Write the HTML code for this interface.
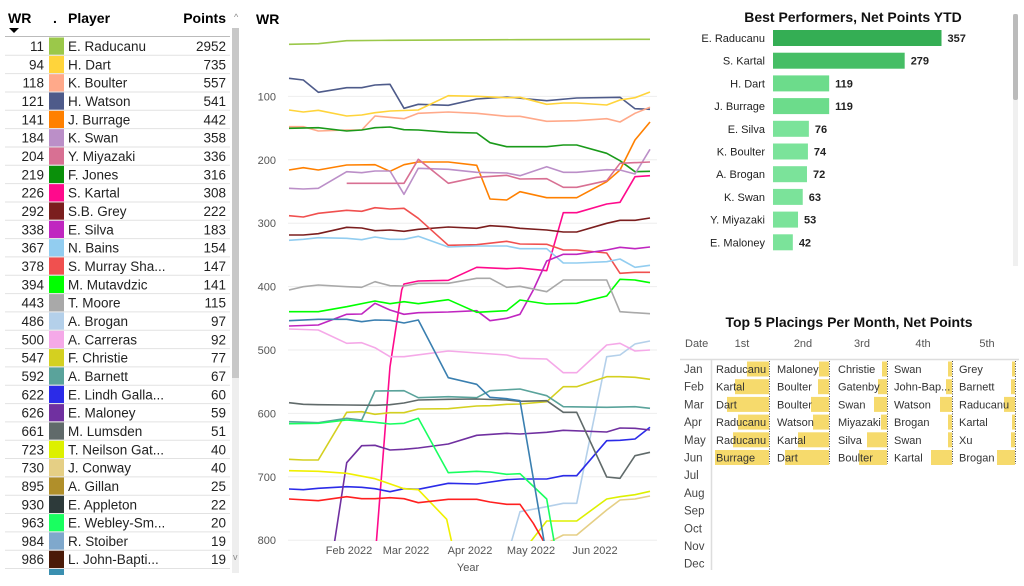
<!DOCTYPE html>
<html><head><meta charset="utf-8"><style>
body{margin:0;width:1024px;height:586px;background:#fff;font-family:"Liberation Sans",sans-serif;overflow:hidden;position:relative}
.a{position:absolute;white-space:nowrap}
</style></head><body>
<div id="root"></div>
<svg id="s" width="1024" height="586" style="position:absolute;left:0;top:0" font-family="Liberation Sans, sans-serif"></svg>
<script>
const S=document.getElementById('s');let h='';
// left table
const rows=[["11","#9BC84A","E. Raducanu","2952"],["94","#FFD43B","H. Dart","735"],["118","#FFA98A","K. Boulter","557"],["121","#4E5B8A","H. Watson","541"],["141","#FF8000","J. Burrage","442"],["184","#BB8FC8","K. Swan","358"],["204","#D87093","Y. Miyazaki","336"],["219","#0A900A","F. Jones","316"],["226","#FF0A8C","S. Kartal","308"],["292","#7B1E1E","S.B. Grey","222"],["338","#C026C0","E. Silva","183"],["367","#92CDF0","N. Bains","154"],["378","#F0504F","S. Murray Sha...","147"],["394","#00FF00","M. Mutavdzic","141"],["443","#A9A9A9","T. Moore","115"],["486","#B4D0EA","A. Brogan","97"],["500","#F5A9E8","A. Carreras","92"],["547","#D4D020","F. Christie","77"],["592","#5AA39B","A. Barnett","67"],["622","#2B2BE8","E. Lindh Galla...","60"],["626","#7030A0","E. Maloney","59"],["661","#606A6A","M. Lumsden","51"],["723","#DDF000","T. Neilson Gat...","40"],["730","#E5CF85","J. Conway","40"],["895","#B08F2A","A. Gillan","25"],["930","#2D3A3A","E. Appleton","22"],["963","#19FF60","E. Webley-Sm...","20"],["984","#7FA8CC","R. Stoiber","19"],["986","#4A1A08","L. John-Bapti...","19"]];
h+=`<text x="8" y="23" font-size="14" font-weight="bold">WR</text><path d="M9 28h10l-5 5z" fill="#000"/><text x="53" y="23" font-size="14" font-weight="bold">.</text><text x="68" y="23" font-size="14" font-weight="bold">Player</text><text x="226" y="23" font-size="14" font-weight="bold" text-anchor="end">Points</text><text x="234" y="20" font-size="9" fill="#888">^</text>`;
h+=`<line x1="5" x2="230" y1="36.5" y2="36.5" stroke="#bbb"/>`;
h+=`<rect x="232" y="28" width="7" height="545" fill="#eee"/><rect x="232" y="28" width="7" height="350" fill="#c8c8c8"/><text x="233" y="560" font-size="9" fill="#888">v</text>`;
rows.forEach((r,i)=>{const t=37+i*18.33;
h+=`<rect x="49" y="${t+0.5}" width="15" height="17.3" fill="${r[1]}"/><text x="44" y="${t+14}" font-size="13.5" text-anchor="end" fill="#222">${r[0]}</text><text x="68" y="${t+14}" font-size="13.5" fill="#222">${r[2]}</text><text x="226" y="${t+14}" font-size="13.5" text-anchor="end" fill="#222">${r[3]}</text><line x1="5" x2="230" y1="${t+18.3}" y2="${t+18.3}" stroke="#e2e2e2"/>`;});
h+=`<rect x="49" y="569" width="15" height="6" fill="#3A8FB0"/>`;
// line chart
h+=`<text x="256" y="24" font-size="14" font-weight="bold">WR</text>`;
for(let v=1;v<=8;v++){const y=33+v*100*0.634;h+=`<line x1="288" x2="657" y1="${y}" y2="${y}" stroke="#eee"/><text x="276" y="${y+4}" font-size="11" fill="#555" text-anchor="end">${v*100}</text>`;}
[["Feb 2022",349],["Mar 2022",406],["Apr 2022",470],["May 2022",531],["Jun 2022",595]].forEach(a=>h+=`<text x="${a[1]}" y="554" font-size="11" fill="#555" text-anchor="middle">${a[0]}</text>`);
h+=`<text x="468" y="571" font-size="11" fill="#555" text-anchor="middle">Year</text>`;
h+=`<defs><clipPath id="c"><rect x="285" y="28" width="372" height="513"/></clipPath></defs><g clip-path="url(#c)" fill="none" stroke-width="1.6" stroke-linejoin="round">`;
const L=[
["#9BC84A",0,"117,133 205,131 290,122 420,121 800,119 1200,118"],
["#4E5B8A",0,"117,235 160,240 205,277 290,263 335,263 375,255 420,253 462,325 505,313 595,316 680,297 770,291 890,302 980,294 1110,292 1155,326 1200,328"],
["#FFD43B",0,"117,330 160,336 205,331 290,348 335,345 375,338 420,333 505,330 595,287 680,289 770,293 810,292 890,313 940,309 980,309 1070,315 1110,300 1155,293 1200,276"],
["#FFA98A",0,"117,380 160,380 205,393 290,390 335,390 375,348 462,356 505,340 595,336 680,340 770,349 810,349 890,364 980,362 1070,356 1110,366 1155,340 1200,322"],
["#1A9A1A",0,"117,385 205,383 290,393 335,390 375,383 420,381 462,389 505,390 595,397 680,399 720,428 770,440 890,440 940,435 980,435 1070,460 1110,482 1155,515 1200,514"],
["#FF8000",0,"117,510 160,503 205,510 290,495 375,494 420,514 462,494 505,486 595,486 680,496 720,597 770,600 810,575 890,593 980,593 1070,545 1110,510 1155,420 1200,366"],
["#BB8FC8",0,"117,565 160,567 205,565 290,515 335,518 375,513 420,513 462,583 505,505 595,508 680,517 770,519 810,527 890,500 940,517 980,517 1070,509 1110,510 1155,522 1200,448"],
["#D87093",0,"290,550 462,550 505,478 595,550 680,532 770,526 810,537 890,536 940,562 980,562 1070,542 1110,490 1200,486"],
["#FF0A8C",0,"378,1640 420,1100 455,870 462,852 505,843 595,841 680,802 770,806 810,804 890,812 940,638 980,638 1070,612 1110,607 1155,530 1200,527"],
["#7B1E1E",0,"117,705 160,705 205,701 290,682 335,684 375,692 420,690 462,694 505,688 595,681 680,685 720,677 770,680 810,685 890,690 940,696 980,696 1070,670 1110,661 1155,661 1200,654"],
["#F0504F",0,"117,647 160,651 205,640 290,631 335,634 375,623 420,627 462,625 505,655 595,736 680,734 770,724 810,732 890,733 940,750 980,750 1070,759 1110,820 1155,817 1200,817"],
["#92CDF0",0,"117,721 160,718 205,713 290,715 335,719 375,711 420,718 462,718 505,709 595,741 680,738 770,738 810,746 890,746 940,789 980,789 1070,785 1110,777 1155,802 1200,796"],
["#C026C0",0,"117,978 205,975 290,943 335,942 375,910 420,930 462,943 505,938 595,936 680,932 720,962 770,955 810,943 850,870 890,783 940,763 980,763 1070,750 1110,742 1155,746 1200,741"],
["#00FF00",0,"117,935 205,935 290,920 375,903 420,911 462,905 505,911 595,899 680,937 770,932 810,900 890,912 980,910 1070,888 1110,838 1155,840 1200,848"],
["#A9A9A9",0,"117,870 160,860 205,855 290,860 335,862 375,845 420,857 462,858 505,850 595,850 680,835 720,835 770,862 810,859 890,875 940,840 1070,840 1110,935 1200,941"],
["#B4D0EA",0,"780,1640 810,1535 890,1520 940,1510 980,1510 1070,1070 1110,1065 1155,1032 1200,1023"],
["#F5A9E8",870,"117,117 205,120 290,160 335,158 375,173 420,200 462,200 595,183 770,195 810,205 890,207 940,248 980,248 1070,165 1110,160 1155,183 1200,180"],
["#D4D020",870,"117,508 160,510 205,510 290,367 335,365 375,373 420,368 462,368 505,357 595,356 680,348 720,347 770,343 810,342 890,335 940,290 980,290 1070,260 1110,260 1155,262 1200,268"],
["#5AA39B",870,"117,395 205,398 290,385 335,390 375,303 462,302 505,323 595,320 680,323 720,302 810,297 890,317 940,350 1070,352 1155,350 1200,355"],
["#2B2BE8",870,"117,597 160,599 205,595 290,590 335,592 375,596 420,605 462,596 505,598 595,580 680,582 770,569 810,567 890,567 940,557 980,557 1070,452 1110,451 1155,447 1200,412"],
["#7030A0",870,"250,780 290,518 335,467 375,466 420,480 462,478 505,474 595,462 680,436 770,430 810,432 890,427 940,421 1070,426 1110,414 1155,415 1200,420"],
["#606A6A",870,"117,338 160,343 205,344 290,345 375,346 420,344 462,339 505,330 595,328 680,327 770,330 810,334 890,332 940,367 980,367 1070,561 1110,565 1155,497 1200,487"],
["#DDF000",870,"830,770 890,693 980,693 1070,627 1110,620 1155,614 1200,604"],
["#E5CF85",870,"870,770 940,735 980,735 1070,660 1110,630 1155,627 1200,618"],
["#19FF60",870,"117,401 205,400 290,390 375,397 420,402 462,400 505,385 595,548 680,544 720,546 770,553 810,551 890,627 915,770"],
["#F0F000",870,"117,542 205,544 290,550 375,566 462,596 505,599 590,688 608,770"],
["#FF2020",870,"117,627 205,632 290,620 335,626 375,626 420,623 462,626 505,638 595,628 680,628 720,636 770,643 810,643 850,700 890,770"],
["#3A7FB0",870,"117,92 205,88 290,88 335,95 375,90 420,91 462,99 505,90 595,263 680,283 720,322 770,326 810,332 885,770"]];
L.forEach(s=>{const p=s[2].split(' ').map(q=>{const [x,y]=q.split(',').map(Number);return (250+x/3).toFixed(1)+','+((y+s[1])/3).toFixed(1)}).join(' ');h+=`<polyline points="${p}" stroke="${s[0]}"/>`;});
h+=`</g>`;
// bar chart
h+=`<text x="853" y="22" font-size="14" font-weight="bold" text-anchor="middle" fill="#111">Best Performers, Net Points YTD</text>`;
const B=[["E. Raducanu",357,"#34AE54"],["S. Kartal",279,"#46BE65"],["H. Dart",119,"#6CDC8B"],["J. Burrage",119,"#6CDC8B"],["E. Silva",76,"#7BE39A"],["K. Boulter",74,"#7BE39A"],["A. Brogan",72,"#7BE39A"],["K. Swan",63,"#7BE39A"],["Y. Miyazaki",53,"#7BE39A"],["E. Maloney",42,"#7BE39A"]];
B.forEach((b,i)=>{const c=38+i*22.7;const w=b[1]*0.472;h+=`<text x="765" y="${c+4}" font-size="11" text-anchor="end" fill="#222">${b[0]}</text><rect x="773" y="${c-8}" width="${w}" height="16" fill="${b[2]}"/><text x="${773+w+6}" y="${c+4}" font-size="11" font-weight="bold" fill="#222">${b[1]}</text>`;});
h+=`<rect x="1013" y="14" width="5" height="252" fill="#f0f0f0"/><rect x="1013" y="14" width="5" height="86" fill="#bbb" rx="2"/>`;
// placings
h+=`<text x="849" y="327" font-size="14" font-weight="bold" text-anchor="middle" fill="#111">Top 5 Placings Per Month, Net Points</text>`;
[["Date",685],["1st",742],["2nd",803],["3rd",862],["4th",923],["5th",987]].forEach(a=>h+=`<text x="${a[1]}" y="347" font-size="11" fill="#555" ${a[0]=="Date"?'':'text-anchor="middle"'}>${a[0]}</text>`);
h+=`<line x1="680" x2="1019" y1="359.5" y2="359.5" stroke="#ddd" stroke-width="1.5"/><line x1="711.5" x2="711.5" y1="360" y2="570" stroke="#ddd" stroke-width="1.5"/>`;
const M=["Jan","Feb","Mar","Apr","May","Jun","Jul","Aug","Sep","Oct","Nov","Dec"];
M.forEach((m,i)=>h+=`<text x="684" y="${373+i*17.7}" font-size="11.5" fill="#444">${m}</text>`);
const ends=[769,829,887,952,1015],starts=[716,777,838,894,959];
const P=[[["Raducanu",22],["Kartal",34],["Dart",42],["Raducanu",31],["Raducanu",36],["Burrage",54]],
[["Maloney",10],["Boulter",11],["Boulter",18],["Watson",16],["Kartal",31],["Dart",44]],
[["Christie",5],["Gatenby",9],["Swan",13],["Miyazaki",6],["Silva",20],["Boulter",28]],
[["Swan",4],["John-Bap...",6],["Watson",12],["Brogan",4],["Swan",4],["Kartal",21]],
[["Grey",3],["Barnett",4],["Raducanu",11],["Kartal",3],["Xu",4],["Brogan",18]]];
P.forEach((col,c)=>{col.forEach((e,r)=>{const y=369+r*17.7;h+=`<rect x="${ends[c]-e[1]}" y="${y-7.5}" width="${e[1]}" height="15" fill="#F6DA6C"/><text x="${starts[c]}" y="${y+4}" font-size="11" fill="#333">${e[0]}</text>`;});
h+=`<line x1="${ends[c]+0.5}" x2="${ends[c]+0.5}" y1="361" y2="464" stroke="#444" stroke-dasharray="1,1.5"/>`;});
S.innerHTML=h;
</script>
</body></html>
